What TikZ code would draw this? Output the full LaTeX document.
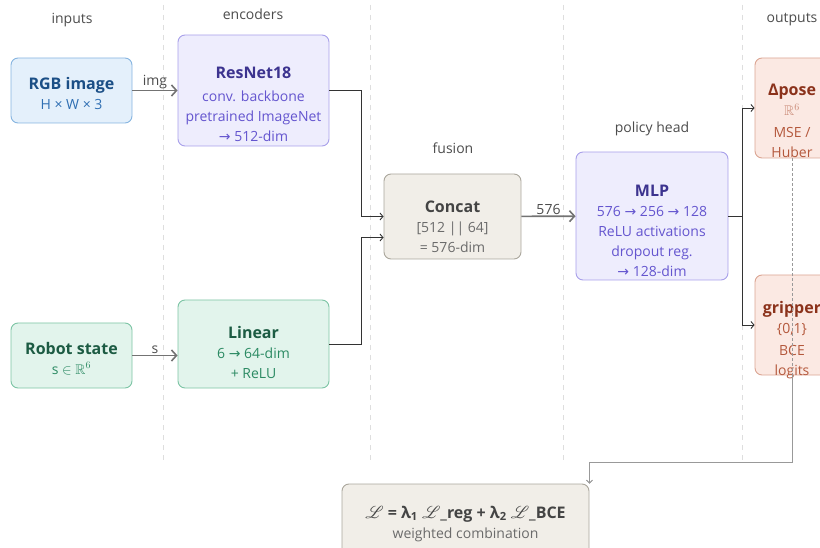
\documentclass[tikz,border=0pt]{standalone}
\usepackage{fontspec}
\usepackage{amssymb}
\usepackage{mathrsfs}
\setmainfont{Open Sans}
\newfontfamily\symfont{DejaVu Sans}
\usetikzlibrary{arrows.meta,positioning}

\definecolor{inFill}{HTML}{E4F0FB}
\definecolor{inDraw}{HTML}{86B4E0}
\definecolor{inHead}{HTML}{1B4F86}
\definecolor{inText}{HTML}{2F6FB3}
\definecolor{encFill}{HTML}{EEEDFD}
\definecolor{encDraw}{HTML}{A8A0EA}
\definecolor{encHead}{HTML}{3C338F}
\definecolor{encText}{HTML}{6455CF}
\definecolor{stFill}{HTML}{E2F4EC}
\definecolor{stDraw}{HTML}{7CC4A4}
\definecolor{stHead}{HTML}{1C5B43}
\definecolor{stText}{HTML}{2B8A63}
\definecolor{fuFill}{HTML}{F1EEE8}
\definecolor{fuDraw}{HTML}{AAA69C}
\definecolor{fuHead}{HTML}{444444}
\definecolor{fuText}{HTML}{6B6B6B}
\definecolor{outFill}{HTML}{FBE9E3}
\definecolor{outDraw}{HTML}{DBA593}
\definecolor{outHead}{HTML}{8B321B}
\definecolor{outText}{HTML}{B4583C}

% bold heading line; the optional strut height pushes the text block down
\newcommand{\hd}[2][12pt]{{\fontsize{16}{22}\selectfont\bfseries\rule{0pt}{#1}#2}}
\newcommand{\ar}{{\symfont →}}

\begin{document}
\begin{tikzpicture}[x=1pt, y=-1pt,
  box/.style={draw, rounded corners=7pt, line width=0.9pt, align=center,
    inner sep=2pt, font=\fontsize{14}{20}\selectfont},
  inbox/.style={box, fill=inFill, draw=inDraw, text=inText},
  encbox/.style={box, fill=encFill, draw=encDraw, text=encText},
  stbox/.style={box, fill=stFill, draw=stDraw, text=stText},
  fubox/.style={box, fill=fuFill, draw=fuDraw, text=fuText},
  outbox/.style={box, fill=outFill, draw=outDraw, text=outText},
  lane/.style={draw=black!13, dashed, dash pattern=on 5pt off 5pt, line width=0.7pt},
  lanelabel/.style={font=\fontsize{14}{16}\selectfont, text=black!70},
  feed/.style={draw=black!55, line width=1.6pt, -{Straight Barb[length=5pt, width=11pt]}},
  link/.style={draw=black!80, line width=0.9pt, -{Straight Barb[length=3pt, width=7pt]}},
  lossline/.style={draw=black!40, dashed, dash pattern=on 3pt off 2pt, line width=0.6pt,
    -{Straight Barb[length=3pt, width=6pt]}},
  tag/.style={font=\fontsize{14}{16}\selectfont, text=black!70, inner sep=1pt},
]
\useasboundingbox (0,0) rectangle (820,548);

% column dividers and headings
\foreach \x in {163,370,563,742}
  \draw[lane] (\x,5) -- (\x,460);
\node[lanelabel] (lin)  at (72,20)   {inputs};
\node[lanelabel] (lenc) at (253,14)  {encoders};
\node[lanelabel] (lfu)  at (453,148) {fusion};
\node[lanelabel] (lpol) at (652,129) {policy head};
\node[lanelabel] (lout) at (792,20)  {outputs};

% inputs
\node[inbox, minimum width=121pt, minimum height=65pt] (rgb) at (71.5,90.5)
  {\hd[19pt]{\textcolor{inHead}{RGB image}}\\H × W × 3};
\node[stbox, minimum width=121pt, minimum height=65pt] (robot) at (71.5,355.5)
  {\hd[18pt]{\textcolor{stHead}{Robot state}}\\s $\in$ $\mathbb{R}^{6}$};

% encoders
\node[encbox, minimum width=151pt, minimum height=111pt] (resnet) at (253.5,90.5)
  {\hd[40pt]{\textcolor{encHead}{ResNet18}}\\[3pt]conv. backbone\\pretrained ImageNet\\\ar{} 512-dim};
\node[stbox, minimum width=151pt, minimum height=88pt] (linear) at (253.5,344)
  {\hd[29pt]{\textcolor{stHead}{Linear}}\\6 \ar{} 64-dim\\+ ReLU};

% fusion and head
\node[fubox, minimum width=137pt, minimum height=85pt] (concat) at (452.5,216.5)
  {\hd[32pt]{\textcolor{fuHead}{Concat}}\\{[512 || 64]}\\= 576-dim};
\node[encbox, minimum width=152pt, minimum height=128pt] (mlp) at (652,216)
  {\hd[42pt]{\textcolor{encHead}{MLP}}\\576 \ar{} 256 \ar{} 128\\ReLU activations\\dropout reg.\\\ar{} 128-dim};

% outputs (text runs past the box)
\node[outbox, minimum width=74pt, minimum height=100pt] (pose) at (792,108) {};
\node[text=outText, align=center, font=\fontsize{14}{20}\selectfont] (posetxt) at (792,121)
  {\hd{\textcolor{outHead}{Δpose}}\\\textcolor{outText!70}{$\mathbb{R}^{6}$}\\[2pt]MSE /\\Huber};
\node[outbox, minimum width=74pt, minimum height=100pt] (grip) at (792,325) {};
\node[text=outText, align=center, font=\fontsize{14}{20}\selectfont] (griptxt) at (792,340)
  {\hd{\textcolor{outHead}{gripper}}\\\{0,1\}\\[2pt]BCE\\logits};

% loss
\node[fubox, minimum width=247pt, minimum height=76pt] (loss) at (465.5,522)
  {\textcolor{fuHead}{\fontsize{16}{22}\selectfont\bfseries\rule{0pt}{16pt}$\mathscr{L}$ = λ\textsubscript{1} $\mathscr{L}$\_reg + λ\textsubscript{2} $\mathscr{L}$\_BCE}\\weighted combination};

% connectors
\draw[feed] (rgb) -- node[tag, above] {img} (resnet);
\draw[feed] (robot.east) -- node[tag, above] {s} (robot.east -| linear.west);
\draw[link] (resnet.east) -- ++(32,0) |- (concat.west);
\draw[link] (linear.east) -- ++(32,0) |- ([yshift=-21pt]concat.west);
\draw[feed] (concat) -- node[tag, above] {576} (mlp);
\draw[link] (mlp.east) -- ++(14,0) coordinate (split) |- (pose.west);
\draw[link] (split) |- (grip.west);
\coordinate (lossbend) at (792,462);
\draw[lossline] (pose.south) -- (lossbend) -| (loss.north east);
\draw[lossline] (grip.south) -- (lossbend) -| (loss.north east);
\end{tikzpicture}
\end{document}
